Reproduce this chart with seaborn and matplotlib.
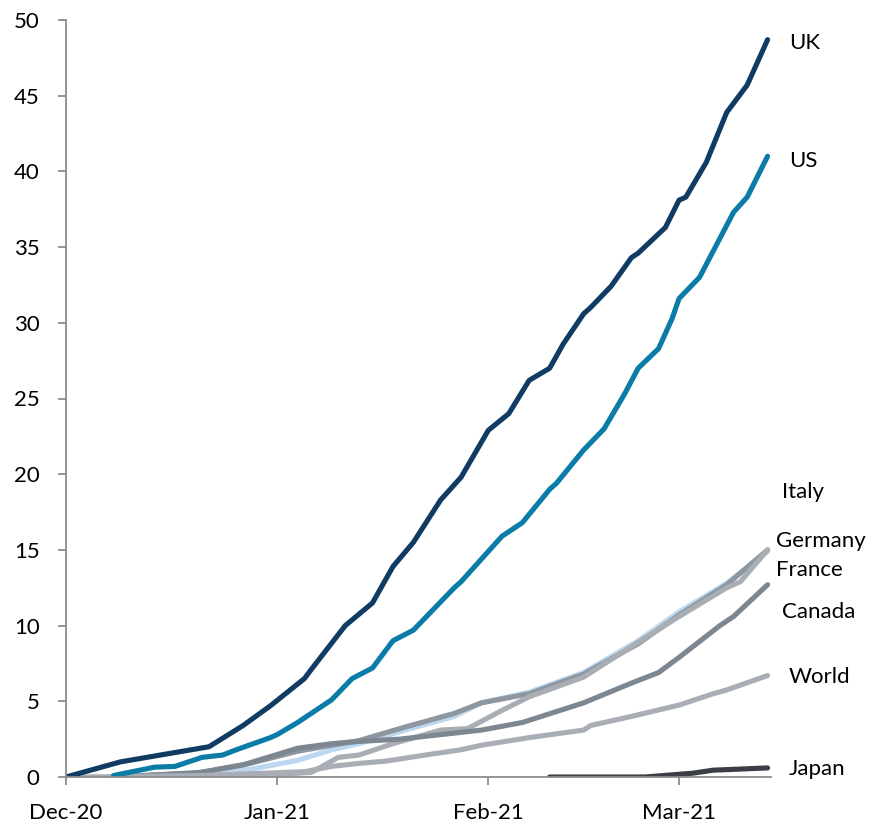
import numpy as np
import pandas as pd
import matplotlib
matplotlib.use("Agg")
import matplotlib.pyplot as plt
import matplotlib.dates as mdates
import seaborn as sns

# Cumulative vaccine doses per 100 people, sampled at days since 1 Dec 2020
start = pd.Timestamp("2020-12-01")

uk_days = [0, 8, 21, 26, 30, 35, 36, 41, 45, 48, 51, 55, 58, 62, 65, 68, 71, 73,
           76, 77, 80, 83, 84, 88, 90, 91, 94, 97, 100, 103]
uk_vals = [0.0, 1.0, 2.0, 3.4, 4.7, 6.5, 7.1, 10.0, 11.5, 13.9, 15.5, 18.3, 19.8,
           22.9, 24.0, 26.2, 27.0, 28.6, 30.6, 31.0, 32.4, 34.3, 34.6, 36.3, 38.1,
           38.3, 40.6, 43.9, 45.7, 48.7]

us_days = [7, 13, 16, 20, 23, 25, 30, 31, 34, 39, 42, 45, 48, 51, 57, 58, 64, 67,
           71, 72, 76, 79, 82, 84, 87, 89, 90, 93, 98, 100, 103]
us_vals = [0.1, 0.65, 0.7, 1.3, 1.45, 1.8, 2.6, 2.8, 3.6, 5.1, 6.5, 7.2, 9.0, 9.7,
           12.5, 12.9, 15.9, 16.8, 19.0, 19.4, 21.6, 23.0, 25.3, 27.0, 28.3, 30.3,
           31.6, 33.0, 37.3, 38.3, 41.0]

italy_days = [7, 12, 27, 34, 39, 43, 49, 57, 61, 68, 76, 84, 90, 97, 103]
italy_vals = [0.0, 0.1, 0.5, 1.1, 1.8, 2.2, 3.0, 4.0, 4.9, 5.6, 6.9, 9.0, 10.9, 12.8, 14.9]

germany_days = [7, 20, 27, 34, 39, 43, 49, 57, 61, 68, 76, 84, 90, 97, 103]
germany_vals = [0.0, 0.3, 0.9, 1.7, 2.1, 2.4, 3.2, 4.2, 4.9, 5.5, 6.8, 8.8, 10.7, 12.7, 15.0]

france_days = [7, 23, 32, 36, 40, 43, 48, 55, 59, 64, 68, 76, 84, 90, 97, 99, 103]
france_vals = [0.0, 0.0, 0.2, 0.3, 1.3, 1.45, 2.2, 3.1, 3.2, 4.4, 5.3, 6.6, 8.9, 10.6,
               12.5, 12.9, 15.0]

canada_days = [7, 19, 26, 34, 39, 43, 49, 57, 61, 67, 76, 83, 87, 90, 96, 98, 103]
canada_vals = [0.0, 0.25, 0.8, 1.9, 2.2, 2.35, 2.5, 2.9, 3.1, 3.6, 4.9, 6.2, 6.9, 7.9,
               10.0, 10.6, 12.7]

world_days = [2, 20, 35, 39, 43, 47, 52, 58, 61, 68, 76, 77, 83, 90, 95, 97, 103]
world_vals = [0.0, 0.1, 0.35, 0.7, 0.9, 1.05, 1.4, 1.8, 2.1, 2.6, 3.1, 3.4, 4.0, 4.75,
              5.5, 5.75, 6.7]

japan_days = [71, 85, 92, 95, 103]
japan_vals = [0.0, 0.0, 0.25, 0.45, 0.6]

series = {
    "Italy": (italy_days, italy_vals),
    "Germany": (germany_days, germany_vals),
    "France": (france_days, france_vals),
    "Canada": (canada_days, canada_vals),
    "World": (world_days, world_vals),
    "Japan": (japan_days, japan_vals),
    "US": (us_days, us_vals),
    "UK": (uk_days, uk_vals),
}

colors = {
    "UK": "#103c64",
    "US": "#0b7ba7",
    "Italy": "#bcd8f0",
    "Germany": "#8e969f",
    "France": "#a9aeb5",
    "Canada": "#7c8792",
    "World": "#a9aeb6",
    "Japan": "#3b3f45",
}

# End-of-line labels: (day offset, value position)
label_pos = {
    "UK": (106.1, 48.5),
    "US": (106.1, 40.7),
    "Italy": (105.1, 18.8),
    "Germany": (104.2, 15.6),
    "France": (104.2, 13.7),
    "Canada": (105.1, 10.9),
    "World": (106.1, 6.6),
    "Japan": (106.1, 0.5),
}

frames = []
for name, (d, v) in series.items():
    frames.append(pd.DataFrame({
        "date": start + pd.to_timedelta(d, unit="D"),
        "value": v,
        "country": name,
    }))
df = pd.concat(frames, ignore_index=True)

sns.set_style("white")
plt.rcParams["font.family"] = ["Lato", "DejaVu Sans"]

fig = plt.figure(figsize=(8.77, 8.24), dpi=100)
ax = fig.add_axes([66 / 877, 1 - 777 / 824, 705 / 877, 757 / 824])

sns.lineplot(data=df, x="date", y="value", hue="country",
             hue_order=list(series.keys()), palette=colors,
             linewidth=3.7, estimator=None, sort=True, legend=False, ax=ax)
for line in ax.get_lines():
    line.set_solid_capstyle("round")
    line.set_solid_joinstyle("round")

ax.set_xlim(start, start + pd.Timedelta(days=103.5))
ax.set_ylim(0, 50)
ax.set_yticks(np.arange(0, 51, 5))
ax.set_xticks([pd.Timestamp(s) for s in ["2020-12-01", "2021-01-01", "2021-02-01", "2021-03-01"]])
ax.xaxis.set_major_formatter(mdates.DateFormatter("%b-%y"))
ax.set_xlabel("")
ax.set_ylabel("")

for side in ["top", "right"]:
    ax.spines[side].set_visible(False)
for side in ["left", "bottom"]:
    ax.spines[side].set_color("#8c8c8c")
    ax.spines[side].set_linewidth(1.3)

fs = 16
ax.tick_params(axis="y", which="major", direction="out", length=6, width=1.3,
               color="#8c8c8c", pad=13, labelsize=fs, labelcolor="black", left=True)
ax.tick_params(axis="x", which="major", direction="out", length=6, width=1.3,
               color="#8c8c8c", pad=13, labelsize=fs, labelcolor="black", bottom=True)

for name, (d, y) in label_pos.items():
    ax.text(start + pd.Timedelta(days=d), y, name, fontsize=fs, color="black",
            ha="left", va="center", clip_on=False)

fig.savefig("out.png", dpi=100, facecolor="white")
